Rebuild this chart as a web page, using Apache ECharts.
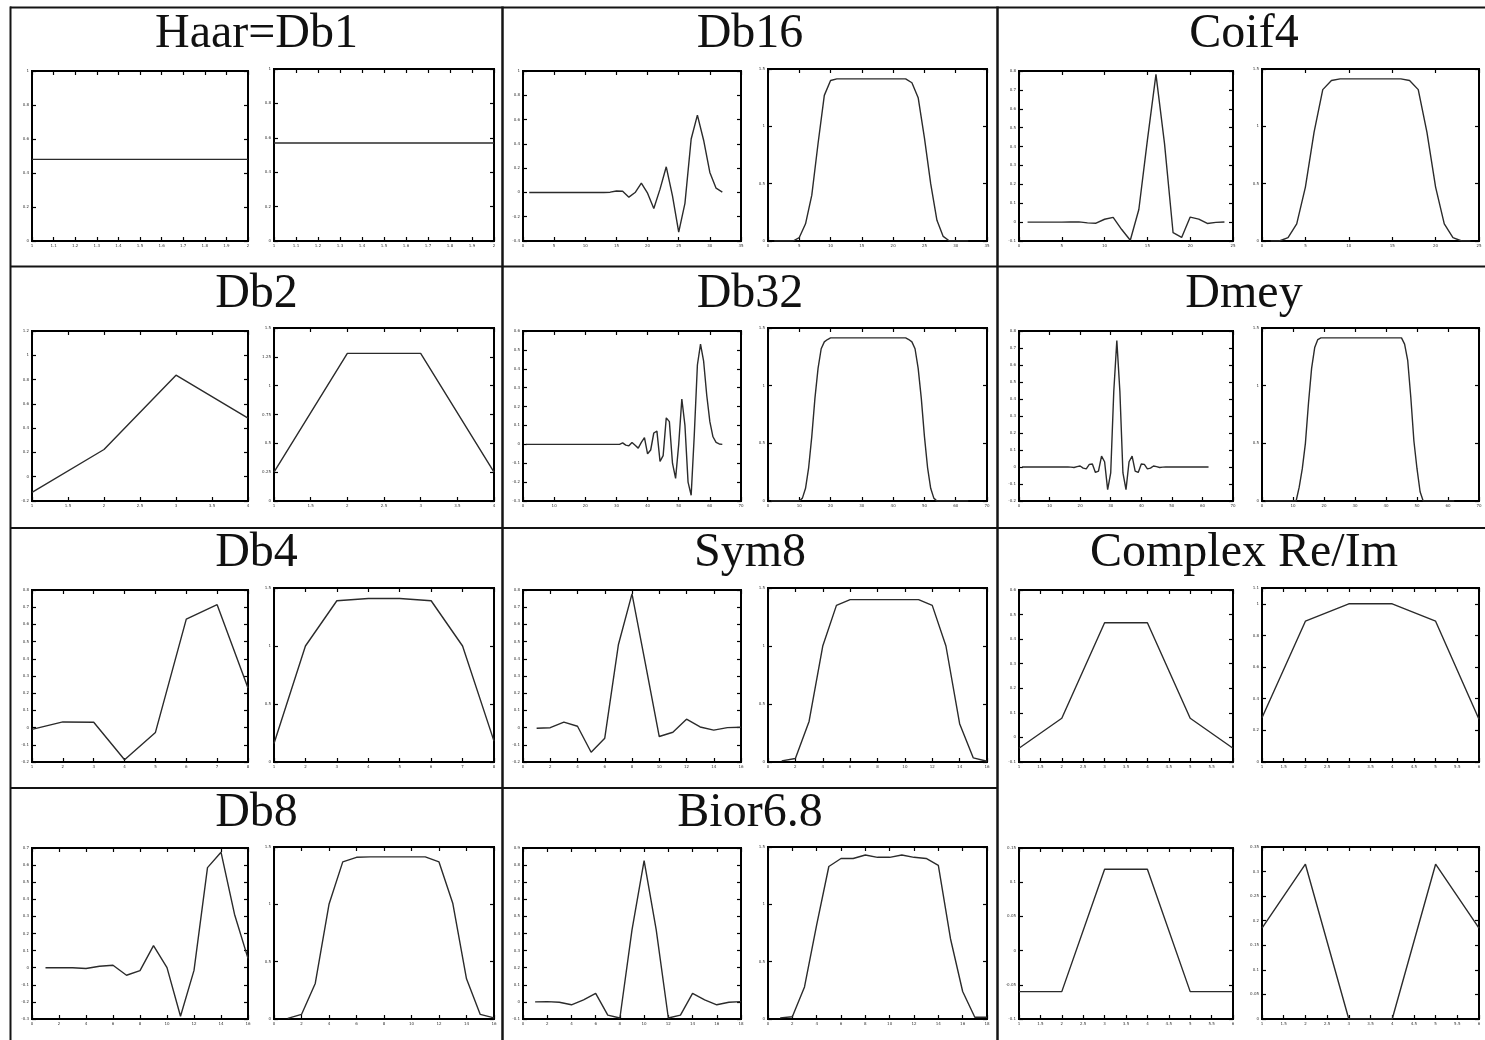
<!DOCTYPE html>
<html>
<head>
<meta charset="utf-8">
<title>Wavelet filters and their responses</title>
<script src="https://cdn.jsdelivr.net/npm/echarts/dist/echarts.min.js"></script>
<style>
  html, body { margin: 0; padding: 0; background: #fff; }
  #chart { width: 1485px; height: 1040px; }
</style>
</head>
<body>
<div id="chart"></div>
<script>
// Low-pass decomposition taps (left plot of each pair) and the magnitude
// response of the same filter (right plot). Index k of each array is tap k+1.
const haarFilter = [0.48, 0.48];
const haarResponse = [0.57, 0.57];

const db2Filter = [-0.1294, 0.2241, 0.8365, 0.4830];
const db2Response = [0.25, 1.28, 1.28, 0.25];

const db4Filter = [-0.0106, 0.0329, 0.0308, -0.1870, -0.0280, 0.6309, 0.7148, 0.2304];
const db4Response = [0.16, 1.0, 1.39, 1.41, 1.41, 1.39, 1.0, 0.18];

const db8Filter = [-0.0001, 0.0007, -0.0004, -0.0049, 0.0087, 0.0140, -0.0441, -0.0174,
  0.1287, 0.0005, -0.2840, -0.0158, 0.5854, 0.6756, 0.3129, 0.0544];
const db8Response = [0.005, 0.04, 0.31, 1.0, 1.37, 1.41, 1.414, 1.414,
  1.414, 1.414, 1.414, 1.37, 1.01, 0.35, 0.04, 0.01];

const db16Filter = [0, 0, 0, 0, 0, 0, 0, 0, 0, 0, 0, 0, 0, 0.002, 0.012, 0.010,
  -0.039, -0.001, 0.076, -0.006, -0.132, 0.027, 0.211, -0.028,
  -0.327, -0.090, 0.440, 0.637, 0.430, 0.165, 0.035, 0.003];
const db16Response = [0, 0, 0, 0, 0.03, 0.15, 0.40, 0.85, 1.27, 1.40,
  1.414, 1.414, 1.414, 1.414, 1.414, 1.414, 1.414, 1.414, 1.414, 1.414, 1.414, 1.414,
  1.38, 1.25, 0.90, 0.50, 0.18, 0.04, 0, 0, 0, 0];

const db32Filter = [0, 0, 0, 0, 0, 0, 0, 0, 0, 0, 0, 0, 0, 0, 0, 0,
  0, 0, 0, 0, 0, 0, 0, 0, 0, 0, 0, 0, 0, 0, 0,
  0.008, -0.004, -0.008, 0.010, -0.005, -0.020, 0.010, 0.035, -0.050, -0.030,
  0.060, 0.070, -0.090, -0.060, 0.140, 0.120, -0.100, -0.180, 0.000, 0.240,
  0.100, -0.200, -0.270, 0.050, 0.420, 0.530, 0.440, 0.260, 0.120, 0.040,
  0.010, 0.002, 0.000];
const db32Response = [0, 0, 0, 0, 0, 0, 0, 0, 0, 0,
  0.025, 0.11, 0.29, 0.56, 0.89, 1.15, 1.32, 1.38, 1.40,
  1.414, 1.414, 1.414, 1.414, 1.414, 1.414, 1.414, 1.414, 1.414, 1.414,
  1.414, 1.414, 1.414, 1.414, 1.414, 1.414, 1.414, 1.414, 1.414, 1.414,
  1.414, 1.414, 1.414, 1.414, 1.414,
  1.40, 1.38, 1.32, 1.15, 0.89, 0.56, 0.29, 0.11, 0.025,
  0, 0, 0, 0, 0, 0, 0, 0, 0, 0, 0];

const coif4Filter = [0, 0, 0, -0.0001, -0.0003, 0.0006, 0.0013, -0.0038,
  -0.0057, 0.0152, 0.0251, -0.0393, -0.0962, 0.0666, 0.4344, 0.7822,
  0.4153, -0.0561, -0.0813, 0.0267, 0.0161, -0.0073, -0.0016, 0.0009];
const coif4Response = [0, 0, 0.03, 0.15, 0.47, 0.95, 1.32, 1.40,
  1.414, 1.414, 1.414, 1.414, 1.414, 1.414, 1.414, 1.414,
  1.40, 1.32, 0.95, 0.47, 0.15, 0.03, 0, 0];

const dmeyFilter = [0, 0, 0, 0, 0, 0, 0, 0, 0, 0, 0, 0, 0, 0, 0,
  0.0001, -0.0006, -0.0027, 0.0022, 0.0060, -0.0064, -0.0111, 0.0153, 0.0174,
  -0.0321, -0.0243, 0.0637, 0.0307, -0.1328, -0.0351, 0.4446, 0.7446, 0.4446,
  -0.0351, -0.1328, 0.0307, 0.0637, -0.0243, -0.0321, 0.0174, 0.0153, -0.0111,
  -0.0064, 0.0060, 0.0022, -0.0027, -0.0006, 0.0001,
  0, 0, 0, 0, 0, 0, 0, 0, 0, 0, 0, 0, 0, 0];
const dmeyResponse = [0, 0, 0, 0, 0, 0, 0, 0, 0, 0,
  0, 0.12, 0.28, 0.50, 0.85, 1.15, 1.33, 1.40,
  1.414, 1.414, 1.414, 1.414, 1.414, 1.414, 1.414, 1.414, 1.414,
  1.414, 1.414, 1.414, 1.414, 1.414, 1.414, 1.414, 1.414, 1.414,
  1.414, 1.414, 1.414, 1.414, 1.414, 1.414, 1.414, 1.414, 1.414,
  1.36, 1.22, 0.90, 0.52, 0.28, 0.08, 0,
  0, 0, 0, 0, 0, 0, 0, 0, 0, 0];

const sym8Filter = [-0.0034, -0.0005, 0.0317, 0.0076, -0.1433, -0.0613, 0.4814, 0.7772,
  0.3644, -0.0519, -0.0272, 0.0491, 0.0038, -0.0150, -0.0003, 0.0019];
const sym8Response = [0.01, 0.03, 0.35, 1.0, 1.35, 1.40, 1.40, 1.40,
  1.40, 1.40, 1.40, 1.35, 1.0, 0.33, 0.035, 0.006];

const bior68Filter = [0, 0.0019, -0.0019, -0.0170, 0.0119, 0.0497, -0.0773, -0.0941, 0.4208,
  0.8259, 0.4208, -0.0941, -0.0773, 0.0497, 0.0119, -0.0170, -0.0019, 0.0019];
const bior68Response = [0.01, 0.02, 0.28, 0.82, 1.33, 1.40, 1.40, 1.43, 1.41,
  1.41, 1.43, 1.41, 1.40, 1.34, 0.70, 0.24, 0.015, 0.015];

const complexReFilter = [-0.044, 0.078, 0.467, 0.467, 0.078, -0.044];
const complexReResponse = [0.28, 0.89, 1.0, 1.0, 0.89, 0.27];
const complexImFilter = [-0.06, -0.06, 0.119, 0.119, -0.06, -0.06];
const complexImResponse = [0.185, 0.315, 0, 0, 0.315, 0.185];

// Axis ranges as [min, max, tick step] for the taps (f) and responses (r).
const cells = [
  { title: 'Haar=Db1', row: 0, col: 0, filter: haarFilter, response: haarResponse,
    fx: [1, 2, 0.1], fy: [0, 1, 0.2], rx: [1, 2, 0.1], ry: [0, 1, 0.2] },
  { title: 'Db16', row: 0, col: 1, filter: db16Filter, response: db16Response,
    fx: [0, 35, 5], fy: [-0.4, 1.0, 0.2], rx: [0, 35, 5], ry: [0, 1.5, 0.5] },
  { title: 'Coif4', row: 0, col: 2, filter: coif4Filter, response: coif4Response,
    fx: [0, 25, 5], fy: [-0.1, 0.8, 0.1], rx: [0, 25, 5], ry: [0, 1.5, 0.5] },
  { title: 'Db2', row: 1, col: 0, filter: db2Filter, response: db2Response,
    fx: [1, 4, 0.5], fy: [-0.2, 1.2, 0.2], rx: [1, 4, 0.5], ry: [0, 1.5, 0.25] },
  { title: 'Db32', row: 1, col: 1, filter: db32Filter, response: db32Response,
    fx: [0, 70, 10], fy: [-0.3, 0.6, 0.1], rx: [0, 70, 10], ry: [0, 1.5, 0.5] },
  { title: 'Dmey', row: 1, col: 2, filter: dmeyFilter, response: dmeyResponse,
    fx: [0, 70, 10], fy: [-0.2, 0.8, 0.1], rx: [0, 70, 10], ry: [0, 1.5, 0.5] },
  { title: 'Db4', row: 2, col: 0, filter: db4Filter, response: db4Response,
    fx: [1, 8, 1], fy: [-0.2, 0.8, 0.1], rx: [1, 8, 1], ry: [0, 1.5, 0.5] },
  { title: 'Sym8', row: 2, col: 1, filter: sym8Filter, response: sym8Response,
    fx: [0, 16, 2], fy: [-0.2, 0.8, 0.1], rx: [0, 16, 2], ry: [0, 1.5, 0.5] },
  { title: 'Complex Re/Im', row: 2, col: 2, filter: complexReFilter, response: complexReResponse,
    fx: [1, 6, 0.5], fy: [-0.1, 0.6, 0.1], rx: [1, 6, 0.5], ry: [0, 1.1, 0.2] },
  { title: 'Db8', row: 3, col: 0, filter: db8Filter, response: db8Response,
    fx: [0, 16, 2], fy: [-0.3, 0.7, 0.1], rx: [0, 16, 2], ry: [0, 1.5, 0.5] },
  { title: 'Bior6.8', row: 3, col: 1, filter: bior68Filter, response: bior68Response,
    fx: [0, 18, 2], fy: [-0.1, 0.9, 0.1], rx: [0, 18, 2], ry: [0, 1.5, 0.5] },
  { title: '', row: 3, col: 2, filter: complexImFilter, response: complexImResponse,
    fx: [1, 6, 0.5], fy: [-0.1, 0.15, 0.05], rx: [1, 6, 0.5], ry: [0, 0.35, 0.05] }
];

// Page layout: plot edges per column [leftPlot x0, x1, rightPlot x0, x1]
// and per row [leftPlot top, rightPlot top, bottom].
const colEdges = [[32, 248, 274, 494], [523, 741, 768, 987], [1019, 1233, 1262, 1479]];
const rowEdges = [[71, 69, 241], [331, 328, 501], [590, 588, 762], [848, 847, 1019]];
const colCenters = [256.5, 750, 1244];
const titleMiddles = [34, 294, 553, 813];

function makeAxis(gridIndex, position, range, withLabels) {
  return {
    type: 'value', gridIndex: gridIndex, position: position,
    min: range[0], max: range[1], interval: range[2],
    axisLine: { show: false, onZero: false },
    splitLine: { show: false },
    axisTick: { show: true, inside: true, length: 4, lineStyle: { color: '#000', width: 1.2 } },
    axisLabel: { show: withLabels, fontSize: 4, color: '#333', margin: 3, fontFamily: 'DejaVu Sans' }
  };
}

const grids = [], xAxes = [], yAxes = [], series = [];
cells.forEach(function (cell) {
  const cx = colEdges[cell.col];
  const ry = rowEdges[cell.row];
  [0, 1].forEach(function (side) {
    const gi = grids.length;
    const x0 = side ? cx[2] : cx[0];
    const x1 = side ? cx[3] : cx[1];
    const top = side ? ry[1] : ry[0];
    grids.push({
      left: x0, top: top, width: x1 - x0, height: ry[2] - top,
      show: true, borderColor: '#000', borderWidth: 2, backgroundColor: 'transparent',
      containLabel: false, outerBoundsMode: 'none'
    });
    const xr = side ? cell.rx : cell.fx;
    const yr = side ? cell.ry : cell.fy;
    xAxes.push(makeAxis(gi, 'bottom', xr, true), makeAxis(gi, 'top', xr, false));
    yAxes.push(makeAxis(gi, 'left', yr, true), makeAxis(gi, 'right', yr, false));
    const values = side ? cell.response : cell.filter;
    series.push({
      type: 'line', xAxisIndex: 2 * gi, yAxisIndex: 2 * gi,
      data: values.map(function (v, k) { return [k + 1, v]; }),
      showSymbol: false, symbol: 'none', clip: true,
      lineStyle: { color: '#2b2b2b', width: 1.4 },
      emphasis: { disabled: true }
    });
  });
});

// Table rules between the cells
const ruleColor = '#141414';
const rules = [
  [10, 7.5, 1485, 7.5, 2],
  [10.5, 6.5, 10.5, 1040, 2],
  [502.5, 6.5, 502.5, 1040, 2.5],
  [997.5, 6.5, 997.5, 1040, 2.5],
  [10, 266.5, 1485, 266.5, 2],
  [10, 528, 1485, 528, 2],
  [10, 788, 997.5, 788, 2]
];
const graphics = rules.map(function (r) {
  return { type: 'line', silent: true,
    shape: { x1: r[0], y1: r[1], x2: r[2], y2: r[3] },
    style: { stroke: ruleColor, lineWidth: r[4] } };
});
cells.forEach(function (cell) {
  if (!cell.title) return;
  graphics.push({
    type: 'text', silent: true,
    x: colCenters[cell.col], y: titleMiddles[cell.row],
    style: { text: cell.title, x: 0, y: 0, align: 'center', verticalAlign: 'middle',
      font: '48px "Liberation Serif"', fill: '#111' }
  });
});

const chart = echarts.init(document.getElementById('chart'), null, { renderer: 'canvas' });
chart.setOption({
  backgroundColor: '#fff',
  animation: false,
  grid: grids,
  xAxis: xAxes,
  yAxis: yAxes,
  series: series,
  graphic: graphics
});
</script>
</body>
</html>
